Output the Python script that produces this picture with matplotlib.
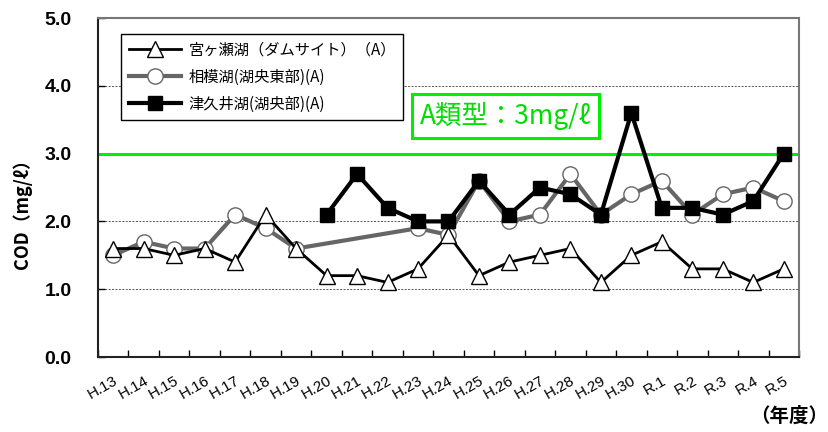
import matplotlib
matplotlib.use("Agg")
import matplotlib.pyplot as plt
import numpy as np

plt.rcParams['font.family'] = ['Noto Sans CJK JP', 'DejaVu Sans']

years = ["H.13", "H.14", "H.15", "H.16", "H.17", "H.18", "H.19", "H.20", "H.21", "H.22",
         "H.23", "H.24", "H.25", "H.26", "H.27", "H.28", "H.29", "H.30",
         "R.1", "R.2", "R.3", "R.4", "R.5"]

miyagase = [1.6, 1.6, 1.5, 1.6, 1.4, 2.1, 1.6, 1.2, 1.2, 1.1, 1.3, 1.8,
            1.2, 1.4, 1.5, 1.6, 1.1, 1.5, 1.7, 1.3, 1.3, 1.1, 1.3]
sagami = [1.5, 1.7, 1.6, 1.6, 2.1, 1.9, 1.6, None, None, None, 1.9, 1.8,
          2.6, 2.0, 2.1, 2.7, 2.1, 2.4, 2.6, 2.1, 2.4, 2.5, 2.3]
tsukui = [None, None, None, None, None, None, None, 2.1, 2.7, 2.2, 2.0, 2.0,
          2.6, 2.1, 2.5, 2.4, 2.1, 3.6, 2.2, 2.2, 2.1, 2.3, 3.0]

labels = ["宮ヶ瀬湖（ダムサイト）（A）", "相模湖(湖央東部)(A)", "津久井湖(湖央部)(A)"]
standard = 3.0
standard_label = "A類型：3mg/ℓ"
yticks = [0.0, 1.0, 2.0, 3.0, 4.0, 5.0]

def valid(series):
    xs = [i for i, v in enumerate(series) if v is not None]
    ys = [v for v in series if v is not None]
    return xs, ys

fig = plt.figure(figsize=(8.29, 4.32), dpi=100)
ax = fig.add_axes([0.1182, 0.1736, 0.9638 - 0.1182, 0.9583 - 0.1736])

for y in yticks[1:-1]:
    ax.axhline(y, color='#555555', lw=0.7, ls=(0, (2, 1.5)), zorder=1)

ax.axhline(standard, color='#00ee00', lw=2.2, zorder=2)

x, y = valid(miyagase)
ax.plot(x, y, color='black', lw=2.0, marker='^', ms=11, mfc='white', mec='black',
        mew=1.0, label=labels[0], zorder=5)
x, y = valid(sagami)
ax.plot(x, y, color='#666666', lw=3.0, marker='o', ms=11, mfc='white', mec='#666666',
        mew=1.0, label=labels[1], zorder=4)
x, y = valid(tsukui)
ax.plot(x, y, color='black', lw=3.0, marker='s', ms=10, mfc='black', mec='black',
        label=labels[2], zorder=6)

ax.set_xlim(-0.5, len(years) - 0.5)
ax.set_ylim(0, 5)
ax.set_yticks(yticks)
ax.set_yticklabels([f"{v:.1f}" for v in yticks])
for t in ax.get_yticklabels():
    t.set_fontfamily(['Liberation Sans', 'DejaVu Sans'])
    t.set_fontweight('bold')
    t.set_fontsize(14)
ax.set_xticks(np.arange(len(years)))
ax.set_xticklabels(years)
for t in ax.get_xticklabels():
    t.set_fontfamily(['Liberation Sans', 'DejaVu Sans'])
    t.set_fontsize(11)
    t.set_rotation(30)
    t.set_ha('right')
    t.set_va('top')
    t.set_rotation_mode('anchor')
ax.set_xticks(np.arange(len(years) + 1) - 0.5, minor=True)
ax.tick_params(axis='x', which='major', length=0, pad=12)
ax.tick_params(axis='x', which='minor', direction='in', length=5, width=1)
ax.tick_params(axis='y', direction='in', length=5, width=1, pad=19)

for s in ['left', 'bottom']:
    ax.spines[s].set_color('#222222')
    ax.spines[s].set_linewidth(1.5)
for s in ['right', 'top']:
    ax.spines[s].set_color('#777777')
    ax.spines[s].set_linewidth(1.5)

fig.text(0.027, 0.516, "COD（mg/ℓ）", fontsize=13, fontweight='bold', rotation=90,
         ha='center', va='center')

leg = ax.legend(loc='upper left', bbox_to_anchor=(0.033, 0.953), borderaxespad=0,
                fontsize=11, frameon=True, fancybox=False, edgecolor='black', framealpha=1,
                handlelength=3.4, borderpad=0.5, labelspacing=0.65, handletextpad=0.5)
leg.get_frame().set_linewidth(1.0)

ax.text(12.88, 3.56, standard_label, color='#00dd00', fontsize=19, ha='center', va='center',
        zorder=7,
        bbox=dict(boxstyle='square,pad=0.3', fc='white', ec='#00ee00', lw=2.2))

fig.text(0.952, 0.036, "（年度）", fontsize=14, fontweight='bold', ha='center', va='center')

fig.savefig("out.png", dpi=100)
